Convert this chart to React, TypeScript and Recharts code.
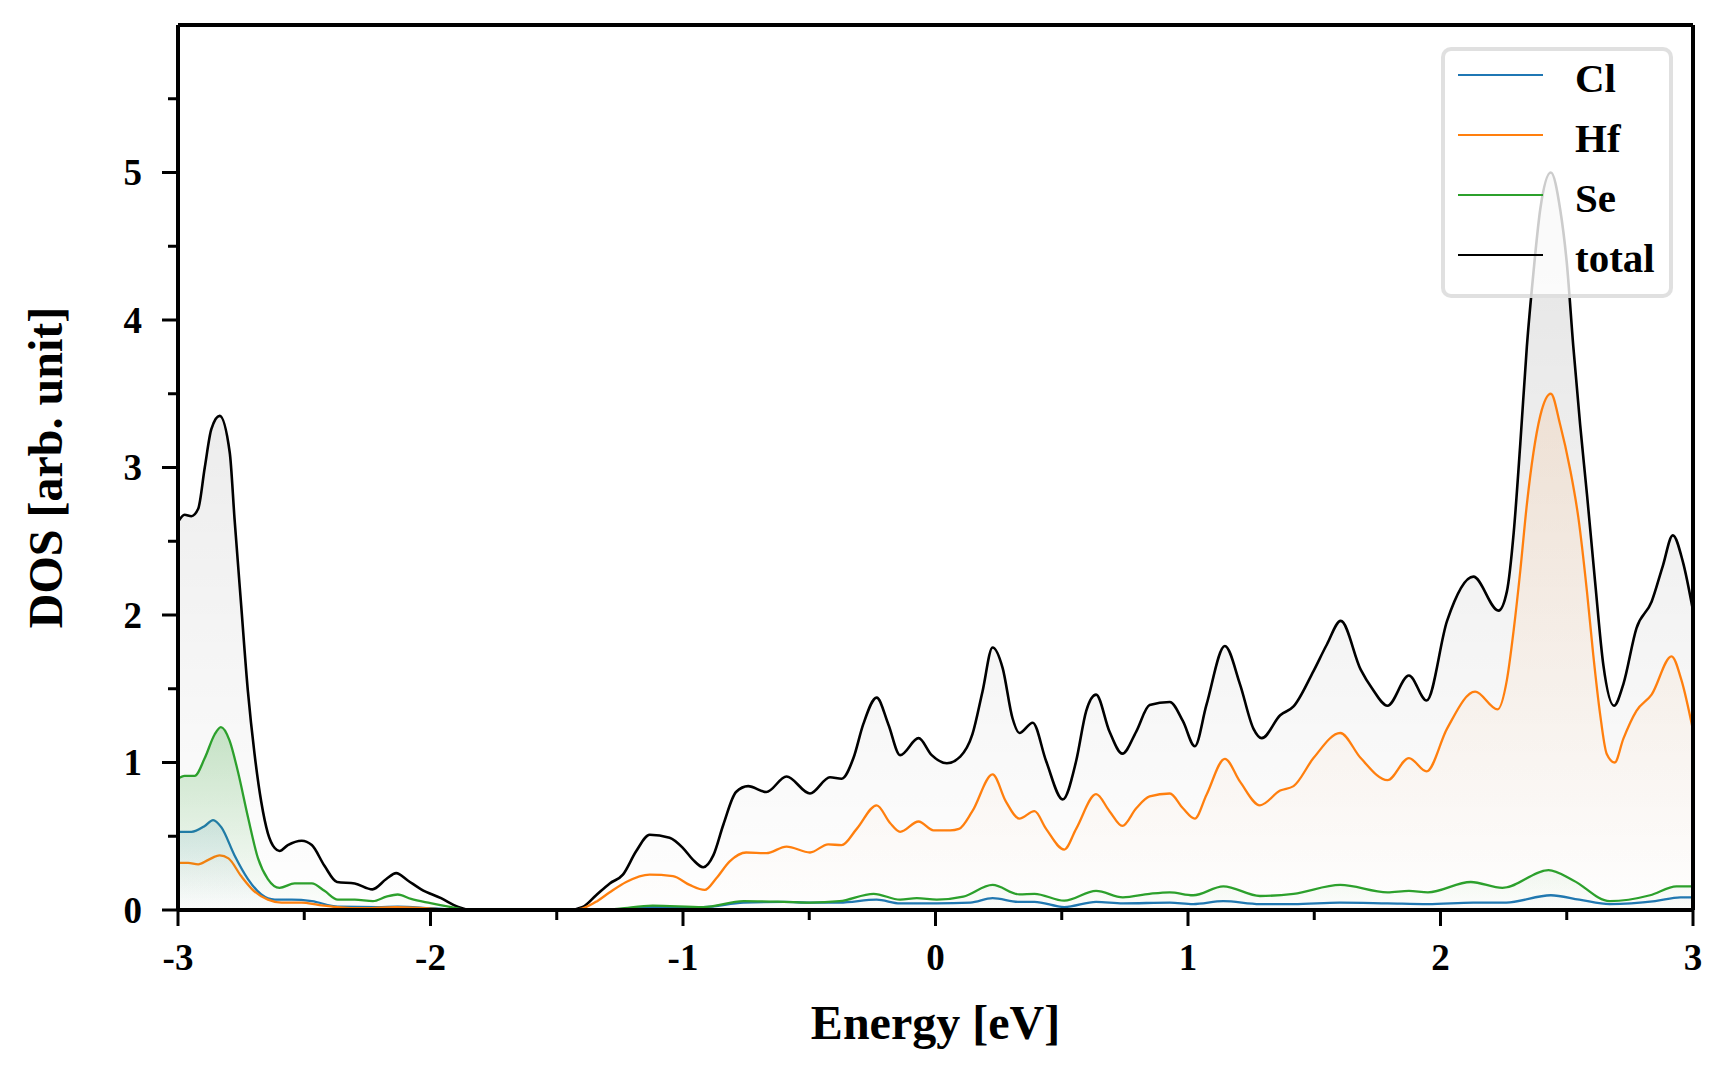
import { ComposedChart, Area, XAxis, YAxis, Legend, ReferenceLine } from 'recharts';

// energy grid (eV) and DOS values read per species
const totalE = [-3, -2.974, -2.947, -2.92, -2.894, -2.868, -2.835, -2.795, -2.776, -2.75, -2.723, -2.697, -2.67, -2.644, -2.617, -2.598, -2.565, -2.51, -2.47, -2.42, -2.37, -2.3, -2.23, -2.175, -2.136, -2.09, -2.037, -1.958, -1.89, -1.84, -1.6, -1.45, -1.397, -1.344, -1.29, -1.238, -1.185, -1.132, -1.053, -1.0, -0.96, -0.92, -0.88, -0.84, -0.79, -0.742, -0.67, -0.59, -0.497, -0.418, -0.372, -0.325, -0.286, -0.233, -0.187, -0.14, -0.067, -0.015, 0.045, 0.098, 0.146, 0.186, 0.226, 0.266, 0.305, 0.332, 0.385, 0.438, 0.504, 0.557, 0.597, 0.636, 0.689, 0.74, 0.795, 0.848, 0.928, 0.98, 1.027, 1.073, 1.146, 1.206, 1.259, 1.292, 1.365, 1.418, 1.497, 1.55, 1.605, 1.684, 1.73, 1.79, 1.875, 1.945, 2.026, 2.13, 2.23, 2.263, 2.29, 2.316, 2.342, 2.368, 2.395, 2.437, 2.474, 2.5, 2.526, 2.553, 2.58, 2.612, 2.645, 2.687, 2.724, 2.776, 2.836, 2.88, 2.92, 2.96, 3.0];
const totalDos = [2.63, 2.68, 2.67, 2.72, 3.0, 3.26, 3.35, 3.1, 2.65, 2.07, 1.48, 1.06, 0.73, 0.52, 0.42, 0.4, 0.44, 0.47, 0.44, 0.3, 0.19, 0.18, 0.14, 0.21, 0.25, 0.2, 0.14, 0.08, 0.02, 0, 0, 0, 0.02, 0.1, 0.18, 0.24, 0.4, 0.51, 0.49, 0.42, 0.34, 0.29, 0.37, 0.58, 0.8, 0.84, 0.8, 0.905, 0.79, 0.9, 0.89, 1.03, 1.26, 1.44, 1.26, 1.05, 1.165, 1.05, 0.995, 1.04, 1.19, 1.48, 1.78, 1.64, 1.3, 1.2, 1.27, 1.01, 0.75, 1.01, 1.35, 1.46, 1.21, 1.06, 1.21, 1.39, 1.41, 1.28, 1.11, 1.39, 1.79, 1.53, 1.23, 1.165, 1.32, 1.38, 1.62, 1.8, 1.96, 1.63, 1.5, 1.385, 1.59, 1.42, 1.96, 2.26, 2.03, 2.16, 2.56, 3.16, 3.82, 4.32, 4.75, 5.0, 4.75, 4.39, 3.82, 3.29, 2.82, 2.23, 1.66, 1.385, 1.53, 1.91, 2.09, 2.33, 2.54, 2.36, 2.03];

const hfE = [-3, -2.96, -2.92, -2.88, -2.835, -2.8, -2.75, -2.7, -2.644, -2.59, -2.51, -2.445, -2.37, -2.26, -2.14, -2.0, -1.866, -1.6, -1.45, -1.4, -1.34, -1.29, -1.225, -1.132, -1.04, -0.974, -0.914, -0.868, -0.815, -0.75, -0.67, -0.59, -0.497, -0.425, -0.372, -0.312, -0.233, -0.18, -0.14, -0.067, -0.008, 0.058, 0.093, 0.146, 0.226, 0.279, 0.332, 0.392, 0.438, 0.51, 0.557, 0.636, 0.689, 0.74, 0.795, 0.848, 0.928, 0.98, 1.027, 1.073, 1.146, 1.206, 1.285, 1.365, 1.418, 1.497, 1.603, 1.684, 1.79, 1.875, 1.945, 2.026, 2.137, 2.226, 2.263, 2.29, 2.316, 2.342, 2.368, 2.395, 2.437, 2.474, 2.513, 2.546, 2.58, 2.605, 2.632, 2.658, 2.69, 2.724, 2.776, 2.836, 2.915, 2.954, 3.0];
const hfDos = [0.32, 0.32, 0.31, 0.34, 0.37, 0.35, 0.23, 0.13, 0.07, 0.05, 0.05, 0.035, 0.02, 0.012, 0.02, 0.01, 0, 0, 0, 0.01, 0.06, 0.12, 0.19, 0.24, 0.23, 0.17, 0.136, 0.215, 0.33, 0.39, 0.385, 0.43, 0.39, 0.445, 0.44, 0.55, 0.71, 0.59, 0.53, 0.6, 0.54, 0.54, 0.55, 0.67, 0.92, 0.735, 0.62, 0.67, 0.55, 0.41, 0.55, 0.785, 0.67, 0.57, 0.69, 0.77, 0.79, 0.69, 0.62, 0.78, 1.025, 0.87, 0.71, 0.81, 0.84, 1.03, 1.2, 1.03, 0.88, 1.03, 0.94, 1.23, 1.48, 1.36, 1.56, 1.9, 2.3, 2.75, 3.1, 3.35, 3.5, 3.29, 2.99, 2.66, 2.16, 1.73, 1.33, 1.06, 1.0, 1.16, 1.35, 1.46, 1.72, 1.56, 1.22];

const seE = [-3, -2.974, -2.934, -2.894, -2.855, -2.83, -2.796, -2.763, -2.723, -2.683, -2.644, -2.598, -2.538, -2.47, -2.42, -2.367, -2.3, -2.228, -2.175, -2.13, -2.077, -2.0, -1.918, -1.852, -1.5, -1.32, -1.25, -1.12, -0.92, -0.76, -0.6, -0.497, -0.38, -0.245, -0.14, -0.074, 0.005, 0.11, 0.226, 0.332, 0.392, 0.51, 0.636, 0.742, 0.848, 0.928, 1.02, 1.14, 1.285, 1.418, 1.603, 1.79, 1.875, 1.95, 2.12, 2.245, 2.428, 2.526, 2.67, 2.83, 2.935, 3.0];
const seDos = [0.89, 0.91, 0.91, 1.03, 1.19, 1.24, 1.15, 0.94, 0.63, 0.35, 0.21, 0.15, 0.18, 0.18, 0.13, 0.07, 0.07, 0.06, 0.09, 0.105, 0.075, 0.047, 0.02, 0, 0, 0, 0.01, 0.03, 0.02, 0.06, 0.055, 0.05, 0.06, 0.11, 0.07, 0.08, 0.07, 0.09, 0.17, 0.106, 0.11, 0.063, 0.13, 0.086, 0.11, 0.12, 0.1, 0.16, 0.095, 0.11, 0.17, 0.12, 0.13, 0.12, 0.19, 0.15, 0.27, 0.2, 0.06, 0.1, 0.16, 0.16];

const clE = [-3, -2.947, -2.894, -2.861, -2.828, -2.776, -2.723, -2.67, -2.617, -2.55, -2.47, -2.367, -2.21, -2.13, -2.0, -1.866, -1.5, -1.32, -1.12, -0.92, -0.76, -0.6, -0.497, -0.38, -0.233, -0.14, 0.005, 0.138, 0.226, 0.332, 0.392, 0.51, 0.636, 0.742, 0.928, 1.02, 1.14, 1.285, 1.418, 1.6, 1.79, 1.95, 2.13, 2.26, 2.437, 2.55, 2.67, 2.85, 2.95, 3.0];
const clDos = [0.53, 0.53, 0.57, 0.61, 0.56, 0.37, 0.21, 0.105, 0.07, 0.07, 0.06, 0.023, 0.02, 0.023, 0.012, 0, 0, 0, 0.02, 0.02, 0.05, 0.055, 0.05, 0.05, 0.07, 0.045, 0.045, 0.05, 0.08, 0.055, 0.055, 0.02, 0.055, 0.045, 0.05, 0.04, 0.06, 0.04, 0.04, 0.05, 0.045, 0.04, 0.05, 0.05, 0.1, 0.07, 0.04, 0.06, 0.085, 0.085];

const xTicks = [-3, -2.5, -2, -1.5, -1, -0.5, 0, 0.5, 1, 1.5, 2, 2.5, 3];
const yTicks = [0, 0.5, 1, 1.5, 2, 2.5, 3, 3.5, 4, 4.5, 5, 5.5];

const legendItems = [
  { name: 'Cl', color: '#1f77b4' },
  { name: 'Hf', color: '#ff7f0e' },
  { name: 'Se', color: '#2ca02c' },
  { name: 'total', color: '#000000' },
];

const FONT = '"Liberation Serif", "DejaVu Serif", "Times New Roman", serif';

const zip = (es: number[], vs: number[]) => es.map((e, i) => ({ e, v: vs[i] }));

const XTick = (props: any) => {
  const { x, y, payload } = props;
  const major = Number.isInteger(payload.value);
  return (
    <g>
      <line x1={x} x2={x} y1={y} y2={y + (major ? 16 : 10)} stroke="#000" strokeWidth={3} />
      {major && (
        <text x={x} y={y + 47} textAnchor="middle" dominantBaseline="central"
          fontFamily={FONT} fontWeight="bold" fontSize={37} fill="#000">
          {payload.value}
        </text>
      )}
    </g>
  );
};

const YTick = (props: any) => {
  const { x, y, payload } = props;
  const major = Number.isInteger(payload.value);
  return (
    <g>
      <line x1={x - (major ? 16 : 10)} x2={x} y1={y} y2={y} stroke="#000" strokeWidth={3} />
      {major && (
        <text x={x - 36} y={y} textAnchor="end" dominantBaseline="central"
          fontFamily={FONT} fontWeight="bold" fontSize={37} fill="#000">
          {payload.value}
        </text>
      )}
    </g>
  );
};

const LegendBox = () => (
  <div style={{
    position: 'relative', width: 232, height: 251, boxSizing: 'border-box',
    border: '4px solid rgba(204,204,204,0.6)', borderRadius: 10,
    background: 'rgba(255,255,255,0.8)',
  }}>
    {legendItems.map((it, i) => (
      <div key={it.name}>
        <div style={{
          position: 'absolute', left: 13, top: 27 + i * 60 - 4, width: 85, height: 0,
          borderTop: `2.5px solid ${it.color}`,
        }} />
        <div style={{
          position: 'absolute', left: 130, top: 27 + i * 60 - 24, height: 48, lineHeight: '48px',
          fontFamily: FONT, fontWeight: 'bold', fontSize: 41, color: '#000',
        }}>
          {it.name}
        </div>
      </div>
    ))}
  </div>
);

export default function App() {
  return (
    <div style={{ width: 1712, height: 1064, background: '#fff' }}>
      <ComposedChart width={1712} height={1064} margin={{ top: 17, right: 27, bottom: 0, left: 0 }}>
        <defs>
          <linearGradient id="gTotal" x1="0" y1="0" x2="0" y2="1">
            <stop offset="0%" stopColor="#000" stopOpacity={0.18} />
            <stop offset="100%" stopColor="#000" stopOpacity={0.005} />
          </linearGradient>
          <linearGradient id="gCl" x1="0" y1="0" x2="0" y2="1">
            <stop offset="0%" stopColor="#1f77b4" stopOpacity={0.2} />
            <stop offset="100%" stopColor="#1f77b4" stopOpacity={0.01} />
          </linearGradient>
          <linearGradient id="gHf" x1="0" y1="0" x2="0" y2="1">
            <stop offset="0%" stopColor="#ff7f0e" stopOpacity={0.18} />
            <stop offset="100%" stopColor="#ff7f0e" stopOpacity={0.005} />
          </linearGradient>
          <linearGradient id="gSe" x1="0" y1="0" x2="0" y2="1">
            <stop offset="0%" stopColor="#2ca02c" stopOpacity={0.42} />
            <stop offset="100%" stopColor="#2ca02c" stopOpacity={0.01} />
          </linearGradient>
        </defs>
        <XAxis dataKey="e" type="number" domain={[-3, 3]} ticks={xTicks} interval={0}
          height={162} tickSize={0} tickMargin={0} tickLine={false} tick={<XTick />}
          axisLine={{ stroke: '#000', strokeWidth: 4 }}
          label={{
            content: (p: any) => (
              <text x={p.viewBox.x + p.viewBox.width / 2} y={p.viewBox.y + 129} textAnchor="middle"
                fontFamily={FONT} fontWeight="bold" fontSize={48} fill="#000">
                Energy [eV]
              </text>
            ),
          }}
        />
        <YAxis type="number" domain={[0, 6]} ticks={yTicks} interval={0} width={170}
          tickSize={0} tickMargin={0} tickLine={false} tick={<YTick />}
          axisLine={{ stroke: '#000', strokeWidth: 4 }}
          label={{
            content: (p: any) => {
              const cx = 54;
              const cy = p.viewBox.y + p.viewBox.height / 2;
              return (
                <text x={cx} y={cy} transform={`rotate(-90 ${cx} ${cy})`} textAnchor="middle"
                  fontFamily={FONT} fontWeight="bold" fontSize={48} fill="#000">
                  DOS [arb. unit]
                </text>
              );
            },
          }}
        />
        <Area data={zip(totalE, totalDos)} dataKey="v" type="monotone" stroke="#000" strokeWidth={2.6}
          fill="url(#gTotal)" dot={false} activeDot={false} isAnimationActive={false} />
        <Area data={zip(clE, clDos)} dataKey="v" type="monotone" stroke="#1f77b4" strokeWidth={2.3}
          fill="url(#gCl)" dot={false} activeDot={false} isAnimationActive={false} />
        <Area data={zip(hfE, hfDos)} dataKey="v" type="monotone" stroke="#ff7f0e" strokeWidth={2.3}
          fill="url(#gHf)" dot={false} activeDot={false} isAnimationActive={false} />
        <Area data={zip(seE, seDos)} dataKey="v" type="monotone" stroke="#2ca02c" strokeWidth={2.3}
          fill="url(#gSe)" dot={false} activeDot={false} isAnimationActive={false} />
        <ReferenceLine y={6} stroke="#000" strokeWidth={4} ifOverflow="visible" />
        <ReferenceLine x={3} stroke="#000" strokeWidth={4} ifOverflow="visible" />
        <Legend layout="vertical" align="center" verticalAlign="middle"
          wrapperStyle={{ left: 1433, top: 39, width: 232, height: 251 }}
          content={() => <LegendBox />} />
      </ComposedChart>
    </div>
  );
}
